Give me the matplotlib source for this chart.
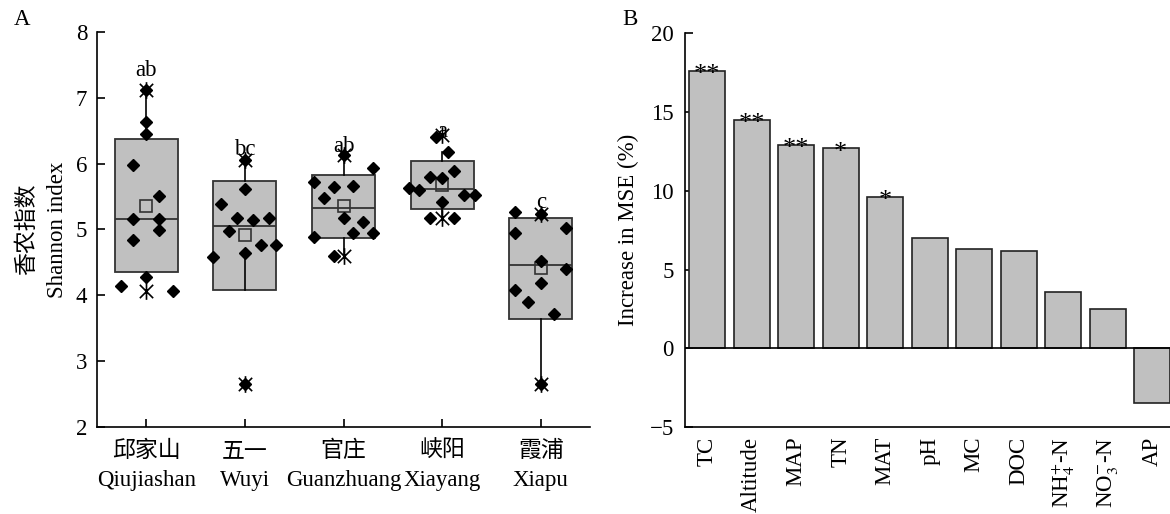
import matplotlib
matplotlib.use("Agg")
import matplotlib.pyplot as plt
from matplotlib.path import Path
import numpy as np

plt.rcParams['font.family'] = ['Liberation Serif', 'Noto Sans CJK SC']
plt.rcParams['mathtext.fontset'] = 'stix'
plt.rcParams['axes.unicode_minus'] = True

# ---- panel A data (Shannon index per site) ----
sites = ["邱家山\nQiujiashan", "五一\nWuyi", "官庄\nGuanzhuang", "峡阳\nXiayang", "霞浦\nXiapu"]
q1 = [4.35, 4.08, 4.87, 5.31, 3.64]
q3 = [6.37, 5.74, 5.83, 6.04, 5.17]
med = [5.16, 5.06, 5.33, 5.61, 4.46]
mean = [5.36, 4.91, 5.36, 5.67, 4.41]
whis_lo = [4.35, 4.64, 4.59, 5.17, 2.65]
whis_hi = [7.12, 6.05, 6.13, 6.18, 5.24]
# min / max markers (asterisks)
ext_lo = [4.07, 2.65, 4.59, 5.17, 2.65]
ext_hi = [7.12, 6.05, 6.13, 6.43, 5.24]
letters = ["ab", "bc", "ab", "a", "c"]
letter_y = [7.33, 6.13, 6.18, 6.41, 5.32]

# individual samples: values and horizontal spread
pts = [
    [7.12, 6.63, 6.45, 5.98, 5.51, 5.16, 5.16, 4.99, 4.84, 4.28, 4.14, 4.06],
    [6.05, 5.61, 5.39, 5.17, 5.14, 5.17, 4.98, 4.64, 4.77, 4.77, 4.58, 2.65],
    [6.13, 5.94, 5.72, 5.64, 5.66, 5.48, 5.18, 5.11, 4.95, 4.94, 4.88, 4.59],
    [6.41, 6.18, 5.89, 5.79, 5.78, 5.63, 5.60, 5.53, 5.53, 5.42, 5.17, 5.17],
    [5.27, 5.24, 5.02, 4.94, 4.52, 4.40, 4.18, 4.08, 3.90, 3.72, 2.65],
]
spread = [
    [0, 0, 0, -0.13, 0.13, -0.13, 0.13, 0.13, -0.13, 0, -0.26, 0.27],
    [0, 0, -0.24, -0.08, 0.08, 0.24, -0.16, 0, 0.16, 0.32, -0.32, 0],
    [0, 0.3, -0.3, -0.1, 0.1, -0.2, 0, 0.2, 0.1, 0.3, -0.3, -0.1],
    [-0.06, 0.06, 0.12, -0.12, 0, -0.34, -0.23, 0.22, 0.33, 0, -0.12, 0.12],
    [-0.26, 0, 0.26, -0.26, 0, 0.26, 0, -0.26, -0.13, 0.13, 0],
]

# ---- panel B data (random forest importance) ----
factors = ["TC", "Altitude", "MAP", "TN", "MAT", "pH", "MC", "DOC",
           "NH$_4^{+}$-N", "NO$_3^{-}$-N", "AP"]
inc_mse = [17.6, 14.5, 12.9, 12.7, 9.6, 7.0, 6.3, 6.15, 3.6, 2.5, -3.5]
signif = ["**", "**", "**", "*", "*", "", "", "", "", "", ""]

fill = "#c0c0c0"
edge = "#333333"
fs = 16.5

fig = plt.figure(figsize=(11.7, 5.14), dpi=100)

# ================= A =================
axA = fig.add_axes([0.0829, 0.1693, 0.4214, 0.7685])
pos = np.arange(1, len(sites) + 1)
stats = []
for i in range(len(sites)):
    stats.append({"med": med[i], "q1": q1[i], "q3": q3[i], "whislo": whis_lo[i],
                  "whishi": whis_hi[i], "mean": mean[i], "fliers": []})
axA.bxp(stats, positions=pos, widths=0.64, patch_artist=True, showmeans=True,
        showcaps=False, showfliers=False,
        boxprops=dict(facecolor=fill, edgecolor=edge, linewidth=1.3, zorder=2),
        medianprops=dict(color=edge, linewidth=1.3, zorder=3),
        whiskerprops=dict(color="black", linewidth=1.2, zorder=3),
        meanprops=dict(marker="s", markerfacecolor="none", markeredgecolor=edge,
                       markersize=8, markeredgewidth=1.2, zorder=4))

star = Path([(-1, -1), (1, 1), (-1, 1), (1, -1), (0, -1.25), (0, 1.25)],
            [Path.MOVETO, Path.LINETO, Path.MOVETO, Path.LINETO, Path.MOVETO, Path.LINETO])

for i in range(len(sites)):
    xs = pos[i] + np.array(spread[i])
    axA.plot(xs, pts[i], linestyle="none", marker="D", color="black",
             markersize=6.5, zorder=5)
    axA.plot([pos[i], pos[i]], [ext_lo[i], ext_hi[i]], linestyle="none", marker=star,
             markersize=12, markeredgecolor="black", markeredgewidth=1.2,
             markerfacecolor="none", zorder=6)
    axA.text(pos[i], letter_y[i], letters[i], ha="center", va="baseline", fontsize=fs)

axA.set_xlim(0.5, 5.5)
axA.set_ylim(2, 8)
axA.set_yticks(range(2, 9))
axA.set_xticks(pos)
axA.set_xticklabels(sites, fontsize=fs, linespacing=1.5)
axA.tick_params(axis="both", direction="in", length=6, width=1.2, labelsize=fs)
axA.tick_params(axis="y", pad=7)
axA.tick_params(axis="x", pad=10)
for s in ["top", "right"]:
    axA.spines[s].set_visible(False)
for s in ["left", "bottom"]:
    axA.spines[s].set_linewidth(1.2)
axA.set_ylabel("香农指数\nShannon index", fontsize=fs, linespacing=1.55)
axA.yaxis.set_label_coords(-0.058, 0.5)
fig.text(0.012, 0.963, "A", fontsize=fs, va="center")

# ================= B =================
axB = fig.add_axes([0.5855, 0.169, 0.4145, 0.7665])
xb = np.arange(len(factors))
axB.bar(xb, inc_mse, width=0.81, color=fill, edgecolor="#222222", linewidth=1.2, zorder=2)
axB.axhline(0, color="black", linewidth=1.2, zorder=3)
for i in range(len(factors)):
    if signif[i]:
        axB.annotate(signif[i], (xb[i], inc_mse[i]), xytext=(0, -7.5),
                     textcoords="offset points", ha="center", va="baseline", fontsize=19)
axB.set_xlim(-0.5, 10.4)
axB.set_ylim(-5, 20)
axB.set_yticks(range(-5, 21, 5))
axB.set_xticks(xb)
axB.set_xticklabels(factors, rotation=90, fontsize=fs)
axB.tick_params(axis="y", direction="in", length=6, width=1.2, labelsize=fs, pad=8)
axB.tick_params(axis="x", length=0, pad=7)
for s in ["top", "right"]:
    axB.spines[s].set_visible(False)
for s in ["left", "bottom"]:
    axB.spines[s].set_linewidth(1.2)
axB.set_ylabel("Increase in MSE (%)", fontsize=fs)
axB.yaxis.set_label_coords(-0.094, 0.5)
fig.text(0.532, 0.963, "B", fontsize=fs, va="center")

fig.savefig("out.png", dpi=100)
